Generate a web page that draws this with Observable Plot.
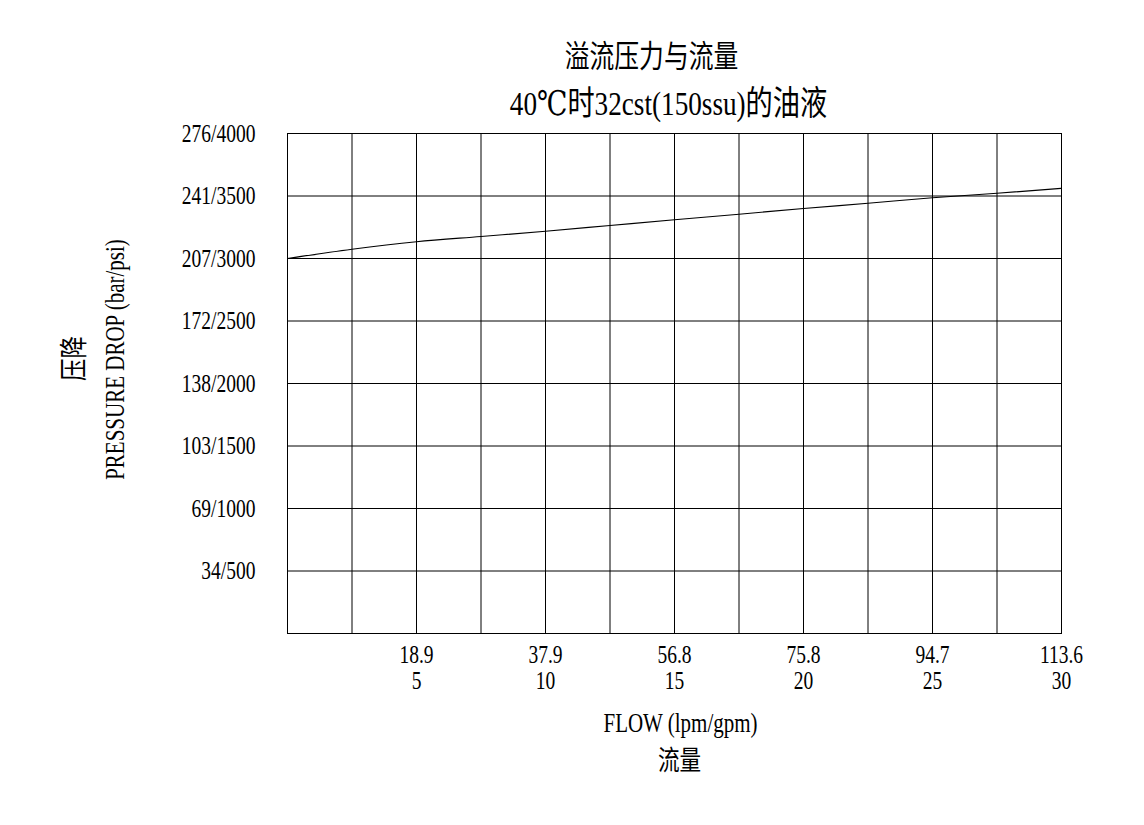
<!DOCTYPE html>
<html>
<head>
<meta charset="utf-8">
<script src="https://cdn.jsdelivr.net/npm/d3@7"></script>
<script src="https://cdn.jsdelivr.net/npm/@observablehq/plot@0.6"></script>
<style>
  html, body { margin: 0; padding: 0; background: #fff; }
  #chart svg { display: block; }
</style>
</head>
<body>
<div id="chart"></div>
<script>
// ---- data ----
const title = "溢流压力与流量";
const subtitle = "40℃时32cst(150ssu)的油液";
const xTitle = "FLOW (lpm/gpm)";
const xTitleCn = "流量";
const yTitle = "PRESSURE DROP (bar/psi)";
const yTitleCn = "压降";

const gpmGrid = [0, 2.5, 5, 7.5, 10, 12.5, 15, 17.5, 20, 22.5, 25, 27.5, 30];
const psiGrid = [0, 500, 1000, 1500, 2000, 2500, 3000, 3500, 4000];

const xTickGpm = [5, 10, 15, 20, 25, 30];
const xTickLpm = ["18.9", "37.9", "56.8", "75.8", "94.7", "113.6"];

const yTickPsi = [500, 1000, 1500, 2000, 2500, 3000, 3500, 4000];
const yTickLabels = ["34/500", "69/1000", "103/1500", "138/2000", "172/2500", "207/3000", "241/3500", "276/4000"];

const flowGpm = [0, 2.5, 5, 7.5, 10, 12.5, 15, 17.5, 20, 22.5, 25, 27.5, 30];
const pressurePsi = [3000, 3074, 3134, 3176, 3218, 3264, 3310, 3354, 3400, 3442, 3486, 3522, 3562];

// ---- tables ----
const curve = flowGpm.map((g, i) => ({gpm: g, psi: pressurePsi[i]}));
const xTicks = xTickGpm.map((g, i) => ({gpm: g, label: `${xTickLpm[i]}\n${g}`}));
const yTicks = yTickPsi.map((p, i) => ({psi: p, label: yTickLabels[i]}));

const FONT = "'Liberation Serif', 'DejaVu Serif', 'Noto Sans CJK SC', serif";

const chart = Plot.plot({
  width: 1144,
  height: 825,
  marginLeft: 287,
  marginRight: 83,
  marginTop: 133,
  marginBottom: 192,
  style: {fontFamily: FONT, background: "#fff", color: "#000", overflow: "visible"},
  x: {domain: [0, 30], axis: null},
  y: {domain: [0, 4000], axis: null},
  marks: [
    Plot.ruleX(gpmGrid, {x: d => d, stroke: "#000", strokeWidth: 1}),
    Plot.ruleY(psiGrid, {y: d => d, stroke: "#000", strokeWidth: 1}),
    Plot.frame({stroke: "#000", strokeWidth: 1}),
    Plot.line(curve, {x: "gpm", y: "psi", stroke: "#000", strokeWidth: 1.2, curve: "monotone-x"}),
    // y tick labels
    Plot.text(yTicks, {x: () => 0, y: "psi", text: "label", textAnchor: "end", dx: -32, fontSize: 26, fill: "#000", lineAnchor: "middle"}),
    // x tick labels (lpm over gpm)
    Plot.text(xTicks, {x: "gpm", y: () => 0, text: "label", textAnchor: "middle", lineAnchor: "top", dy: 11, fontSize: 26, lineHeight: 1.01, fill: "#000"}),
    // titles
    Plot.text([title], {frameAnchor: "top", text: d => d, textAnchor: "middle", dx: -23, dy: -76, fontSize: 31, lineAnchor: "middle", fill: "#000"}),
    Plot.text([subtitle], {frameAnchor: "top", text: d => d, textAnchor: "middle", dx: -6, dy: -29, fontSize: 34, lineAnchor: "middle", fill: "#000"}),
    // x axis titles
    Plot.text([xTitle], {frameAnchor: "bottom", text: d => d, textAnchor: "middle", dx: 6, dy: 90, fontSize: 28, lineAnchor: "middle", fill: "#000"}),
    Plot.text([xTitleCn], {frameAnchor: "bottom", text: d => d, textAnchor: "middle", dx: 5, dy: 128, fontSize: 27, lineAnchor: "middle", fill: "#000"}),
    // y axis titles
    Plot.text([yTitleCn], {frameAnchor: "left", text: d => d, textAnchor: "middle", dx: -212, dy: -25, rotate: -90, fontSize: 28, lineAnchor: "middle", fill: "#000"}),
    Plot.text([yTitle], {frameAnchor: "left", text: d => d, textAnchor: "middle", dx: -172, dy: -24, rotate: -90, fontSize: 28, lineAnchor: "middle", fill: "#000"})
  ]
});

// condense glyphs horizontally (to mimic the narrow Song-style font of the original)
const cjkOnly = /^[\u3000-\u9fff\uff00-\uffef]+$/;
const hasCjk = /[\u2100-\u214f\u3000-\u9fff]/;
chart.querySelectorAll("text").forEach(t => {
  const s = t.textContent;
  let k = 0.75;
  if (cjkOnly.test(s)) k = 0.8;
  else if (hasCjk.test(s)) k = 0.8;
  const x = parseFloat(t.getAttribute("x")) || 0;
  const y = parseFloat(t.getAttribute("y")) || 0;
  const tr = t.getAttribute("transform") || "";
  t.setAttribute("transform", `${tr} translate(${x},${y}) scale(${k},1) translate(${-x},${-y})`);
});

document.getElementById("chart").appendChild(chart);
</script>
</body>
</html>
